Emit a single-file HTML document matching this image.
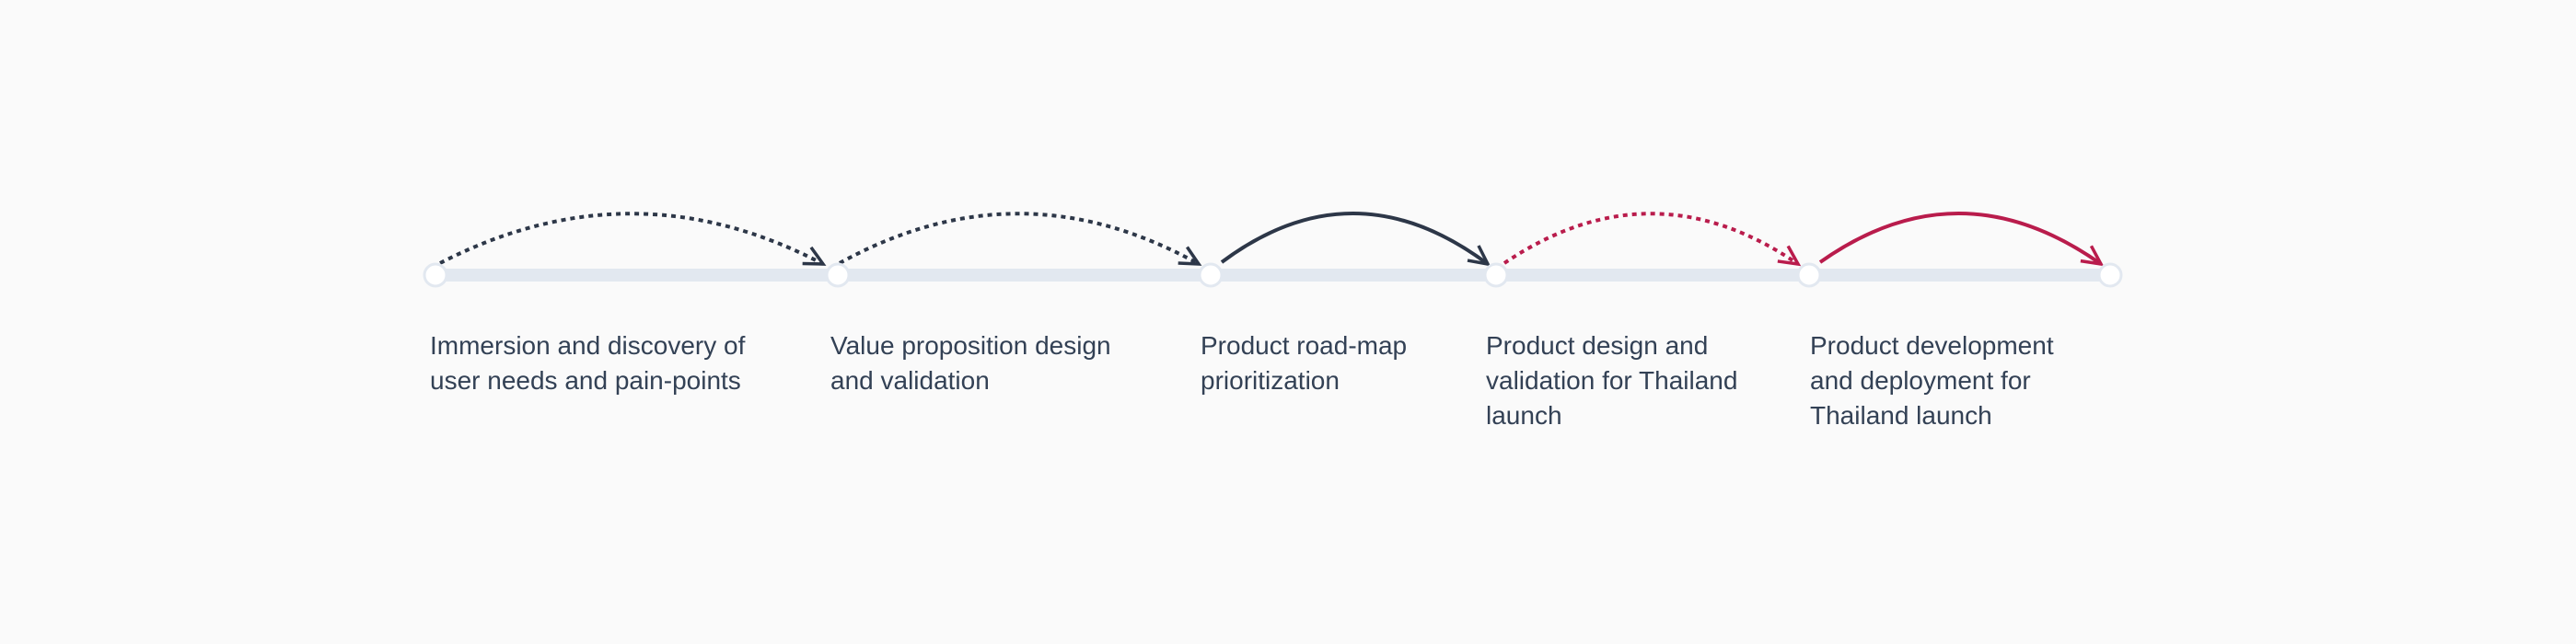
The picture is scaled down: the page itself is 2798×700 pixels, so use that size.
<!DOCTYPE html>
<html><head><style>
html,body{margin:0;padding:0;background:#fafafa;}
body{width:2798px;height:700px;position:relative;overflow:hidden;font-family:"Liberation Sans",Arial,sans-serif;}
.t{position:absolute;top:357px;font-size:28px;line-height:38px;color:#334155;}
</style></head><body>
<svg width="2798" height="700" style="position:absolute;left:0;top:0">
<defs>
<marker id="ad" markerUnits="userSpaceOnUse" markerWidth="30" markerHeight="30" refX="22" refY="12" orient="auto" viewBox="0 0 30 24">
<path d="M2,2 L22,12 L2,22" fill="none" stroke="#2d3748" stroke-width="3.5"/></marker>
<marker id="ar" markerUnits="userSpaceOnUse" markerWidth="30" markerHeight="30" refX="22" refY="12" orient="auto" viewBox="0 0 30 24">
<path d="M2,2 L22,12 L2,22" fill="none" stroke="#b91c4c" stroke-width="3.5"/></marker>
</defs>
<rect x="473" y="292" width="1818" height="14" fill="#e2e8f0"/>
<g fill="none" stroke-width="4">
<path d="M478,286 Q687,178 894,287" stroke="#2d3748" stroke-dasharray="5 5" marker-end="url(#ad)"/>
<path d="M912,286 Q1107,178 1302,287" stroke="#2d3748" stroke-dasharray="5 5" marker-end="url(#ad)"/>
<path d="M1327,285 Q1470,178 1616,287" stroke="#2d3748" marker-end="url(#ad)"/>
<path d="M1634,286 Q1794,178 1953,287" stroke="#b91c4c" stroke-dasharray="5 5" marker-end="url(#ar)"/>
<path d="M1977,285 Q2128,178 2282,287" stroke="#b91c4c" marker-end="url(#ar)"/>
</g>
<g fill="#fff" stroke="#e2e8f0" stroke-width="3">
<circle cx="473" cy="299" r="12"/>
<circle cx="910" cy="299" r="12"/>
<circle cx="1315" cy="299" r="12"/>
<circle cx="1625" cy="299" r="12"/>
<circle cx="1965" cy="299" r="12"/>
<circle cx="2292" cy="299" r="12"/>
</g>
</svg>
<div class="t" style="left:467px">Immersion and discovery of<br>user needs and pain-points</div>
<div class="t" style="left:902px">Value proposition design<br>and validation</div>
<div class="t" style="left:1304px">Product road-map<br>prioritization</div>
<div class="t" style="left:1614px">Product design and<br>validation for Thailand<br>launch</div>
<div class="t" style="left:1966px">Product development<br>and deployment for<br>Thailand launch</div>
</body></html>
